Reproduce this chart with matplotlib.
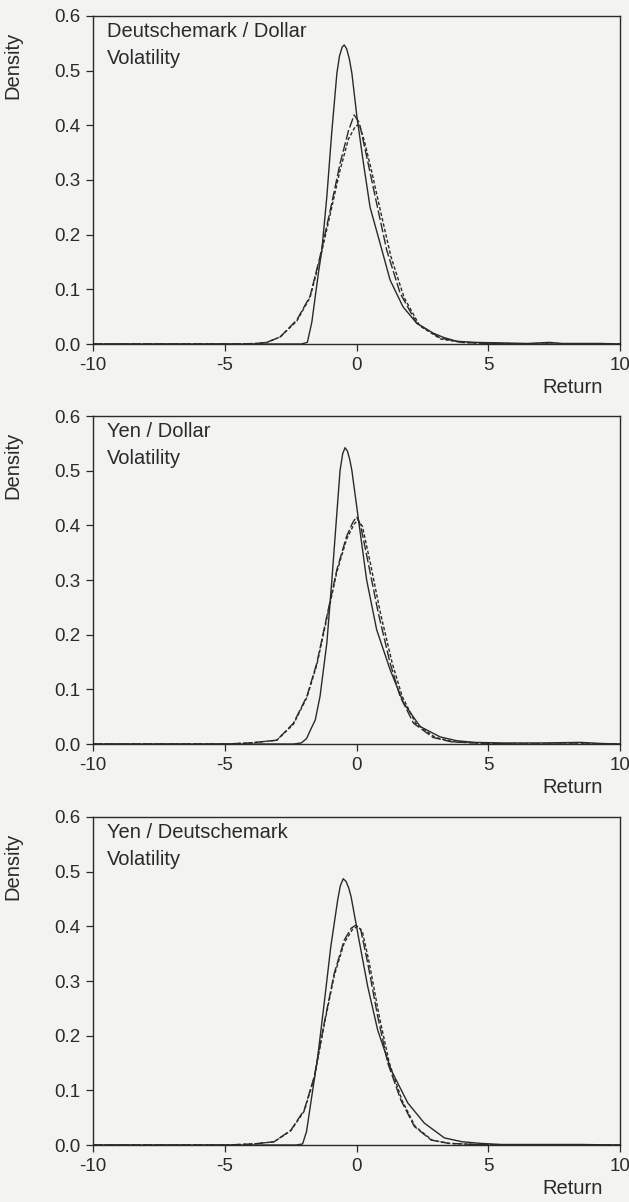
#################### Libraries
import numpy as np
import matplotlib.pyplot as plt

plt.rcParams['font.family'] = ['Liberation Sans', 'DejaVu Sans']
plt.rcParams['axes.unicode_minus'] = False

#################### Deutschemark / Dollar
dm_solid_x = [-10, -2.1, -1.87, -1.7, -1.57, -1.45, -1.32, -1.13, -0.94, -0.75, -0.65, -0.55, -0.47, -0.38,
              -0.28, -0.18, 0.01, 0.26, 0.51, 0.89, 1.27, 1.76, 2.28, 2.9, 3.3, 3.8, 4.5, 5.5, 6.5, 7.3,
              7.8, 8.5, 9.3, 10]
dm_solid_y = [0, 0, 0.003, 0.04, 0.087, 0.13, 0.172, 0.27, 0.39, 0.495, 0.527, 0.543, 0.547, 0.54,
              0.522, 0.495, 0.416, 0.33, 0.25, 0.184, 0.117, 0.068, 0.038, 0.02, 0.012, 0.005, 0.003,
              0.002, 0.001, 0.003, 0.001, 0.001, 0.001, 0]
dm_long_x = [-10, -4.5, -3.8, -3.41, -2.9, -2.27, -1.77, -1.39, -1.0, -0.63, -0.31, -0.095, 0.1, 0.38,
             0.76, 1.14, 1.65, 2.28, 3.17, 4.0, 5, 7, 10]
dm_long_y = [0, 0, 0.001, 0.003, 0.013, 0.044, 0.087, 0.16, 0.245, 0.33, 0.39, 0.419, 0.405, 0.343,
             0.257, 0.172, 0.093, 0.038, 0.011, 0.003, 0.001, 0, 0]
dm_short_x = [-10, -4.5, -3.8, -3.41, -2.9, -2.27, -1.77, -1.39, -1.0, -0.63, -0.31, -0.05, 0.1, 0.3,
              0.55, 0.92, 1.3, 1.8, 2.4, 3.2, 4.0, 5, 7, 10]
dm_short_y = [0, 0, 0.001, 0.003, 0.013, 0.042, 0.085, 0.155, 0.238, 0.318, 0.375, 0.398, 0.402, 0.37,
              0.32, 0.24, 0.16, 0.085, 0.033, 0.009, 0.003, 0.001, 0, 0]

#################### Yen / Dollar
yd_solid_x = [-10, -2.4, -2.1, -1.9, -1.76, -1.57, -1.39, -1.13, -0.94, -0.75, -0.63, -0.53, -0.44, -0.35,
              -0.26, -0.18, 0.07, 0.38, 0.76, 1.27, 1.78, 2.41, 3.17, 3.8, 4.5, 5.5, 7, 8.5, 9.3, 10]
yd_solid_y = [0, 0, 0.002, 0.01, 0.025, 0.044, 0.087, 0.185, 0.30, 0.423, 0.50, 0.531, 0.542, 0.536,
              0.52, 0.50, 0.41, 0.30, 0.209, 0.136, 0.075, 0.032, 0.013, 0.006, 0.003, 0.002, 0.002,
              0.003, 0.001, 0]
yd_long_x = [-10, -5, -4.04, -3.03, -2.4, -1.89, -1.51, -1.13, -0.75, -0.38, -0.15, 0.0, 0.15, 0.44,
             0.82, 1.27, 1.65, 2.16, 2.9, 3.6, 4.5, 6, 10]
yd_long_y = [0, 0, 0.002, 0.007, 0.038, 0.087, 0.148, 0.234, 0.319, 0.38, 0.405, 0.416, 0.40, 0.331,
             0.24, 0.148, 0.087, 0.038, 0.012, 0.004, 0.002, 0, 0]
yd_short_x = [-10, -5, -4.04, -3.03, -2.4, -1.89, -1.51, -1.13, -0.75, -0.38, -0.1, 0.05, 0.22, 0.52,
              0.9, 1.35, 1.73, 2.24, 2.98, 3.7, 4.5, 6, 10]
yd_short_y = [0, 0, 0.002, 0.007, 0.036, 0.085, 0.145, 0.23, 0.315, 0.375, 0.402, 0.41, 0.398, 0.331,
              0.24, 0.148, 0.087, 0.038, 0.012, 0.004, 0.002, 0, 0]

#################### Yen / Deutschemark
yk_solid_x = [-10, -2.3, -2.05, -1.9, -1.74, -1.48, -1.23, -0.98, -0.72, -0.62, -0.51, -0.4, -0.3,
              -0.21, 0.09, 0.42, 0.80, 1.31, 1.94, 2.57, 3.33, 4.0, 4.7, 5.5, 7, 8.5, 10]
yk_solid_y = [0, 0, 0.002, 0.025, 0.077, 0.16, 0.26, 0.363, 0.448, 0.474, 0.487, 0.482, 0.47,
              0.454, 0.375, 0.29, 0.21, 0.137, 0.077, 0.04, 0.013, 0.006, 0.003, 0.001, 0.001, 0.001, 0]
yk_long_x = [-10, -5, -3.9, -3.13, -2.5, -1.99, -1.61, -1.23, -0.85, -0.47, -0.2, -0.03, 0.15, 0.42,
             0.8, 1.18, 1.68, 2.19, 2.83, 3.5, 4.5, 6, 10]
yk_long_y = [0, 0, 0.002, 0.006, 0.027, 0.064, 0.125, 0.223, 0.314, 0.375, 0.397, 0.402, 0.395, 0.333,
             0.235, 0.15, 0.082, 0.034, 0.009, 0.003, 0.001, 0, 0]
yk_short_x = [-10, -5, -3.9, -3.13, -2.5, -1.99, -1.61, -1.23, -0.85, -0.47, -0.15, 0.05, 0.22, 0.48,
              0.86, 1.24, 1.72, 2.22, 2.86, 3.5, 4.5, 6, 10]
yk_short_y = [0, 0, 0.002, 0.006, 0.026, 0.062, 0.122, 0.22, 0.31, 0.37, 0.395, 0.40, 0.39, 0.333,
              0.235, 0.15, 0.082, 0.034, 0.009, 0.003, 0.001, 0, 0]

panels = [
    ('Deutschemark / Dollar', dm_solid_x, dm_solid_y, dm_long_x, dm_long_y, dm_short_x, dm_short_y),
    ('Yen / Dollar', yd_solid_x, yd_solid_y, yd_long_x, yd_long_y, yd_short_x, yd_short_y),
    ('Yen / Deutschemark', yk_solid_x, yk_solid_y, yk_long_x, yk_long_y, yk_short_x, yk_short_y),
]
x_ticks = [-10, -5, 0, 5, 10]
y_ticks = [0.0, 0.1, 0.2, 0.3, 0.4, 0.5, 0.6]

#################### Figure
bg = '#f3f3f1'
ink = '#2a2a2a'
fig = plt.figure(figsize=(6.29, 12.02), dpi=100, facecolor=bg)
bottoms = [0.7138, 0.381, 0.0474]
for (name, sx, sy, lx, ly, hx, hy), b in zip(panels, bottoms):
    ax = fig.add_axes([0.148, b, 0.838, 0.2729], facecolor=bg)
    ax.plot(sx, sy, color=ink, lw=1.0)
    ax.plot(lx, ly, color=ink, lw=1.0, dashes=(7, 2))
    ax.plot(hx, hy, color=ink, lw=1.0, dashes=(2.5, 1.5))
    ax.set_xlim(-10, 10)
    ax.set_ylim(0, 0.6)
    ax.set_xticks(x_ticks)
    ax.set_xticklabels([str(t) for t in x_ticks])
    ax.set_yticks(y_ticks)
    ax.set_yticklabels(['%.1f' % t for t in y_ticks])
    ax.tick_params(direction='out', length=5, width=0.9, pad=4, labelsize=13.5, colors=ink)
    for s in ax.spines.values():
        s.set_color(ink)
        s.set_linewidth(1.0)
    ax.set_ylabel('Density', fontsize=14.5, color=ink)
    ax.yaxis.set_label_coords(-0.134, 0.85)
    ax.set_xlabel('Return', fontsize=14.5, color=ink)
    ax.xaxis.set_label_coords(0.909, -0.103)
    ax.text(0.027, 0.982, name, transform=ax.transAxes, fontsize=14.5, va='top', color=ink)
    ax.text(0.027, 0.899, 'Volatility', transform=ax.transAxes, fontsize=14.5, va='top', color=ink)

plt.savefig('out.png', dpi=100, facecolor=bg)
